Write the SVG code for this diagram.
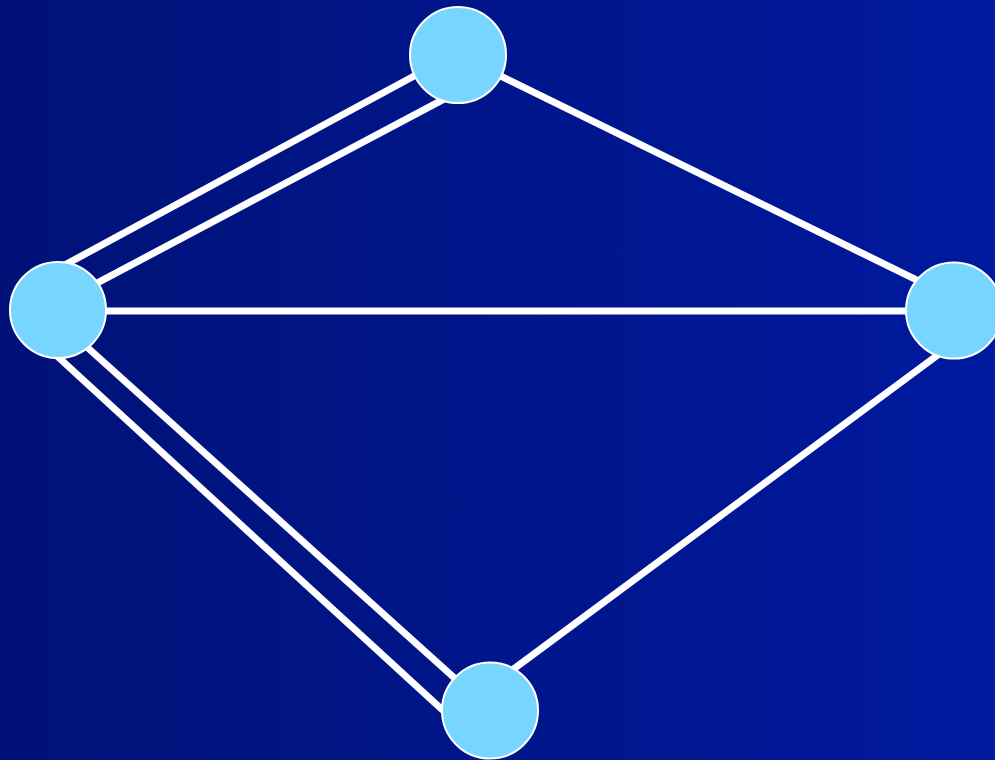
<svg xmlns="http://www.w3.org/2000/svg" width="995" height="760" viewBox="0 0 995 760">
<defs>
<linearGradient id="bg" x1="0" y1="0" x2="1" y2="0">
<stop offset="0" stop-color="#001277"/>
<stop offset="1" stop-color="#00199E"/>
</linearGradient>
<style>
.edge{stroke:#FFFFFF;stroke-width:7;fill:none}
.node{fill:#77D5FF;stroke:#FFFFFF;stroke-width:2}
</style>
</defs>
<rect width="995" height="760" fill="url(#bg)"/>
<g id="connectors">
<line class="edge" x1="40" y1="278.4" x2="440" y2="62"/>
<line class="edge" x1="70" y1="297.4" x2="460" y2="90.7"/>
<line class="edge" x1="58" y1="321" x2="490" y2="710"/>
<line class="edge" x1="45" y1="345" x2="460" y2="726"/>
<line class="edge" x1="100" y1="311" x2="915" y2="311"/>
<line class="edge" x1="470" y1="61" x2="940" y2="291.4"/>
<line class="edge" x1="954" y1="343" x2="490" y2="686.5"/>
</g>
<g id="node-top"><circle class="node" cx="458" cy="55" r="48"/></g>
<g id="node-left"><circle class="node" cx="58" cy="310" r="48"/></g>
<g id="node-right"><circle class="node" cx="954" cy="310.5" r="48"/></g>
<g id="node-bottom"><circle class="node" cx="490" cy="710.5" r="48"/></g>
</svg>
